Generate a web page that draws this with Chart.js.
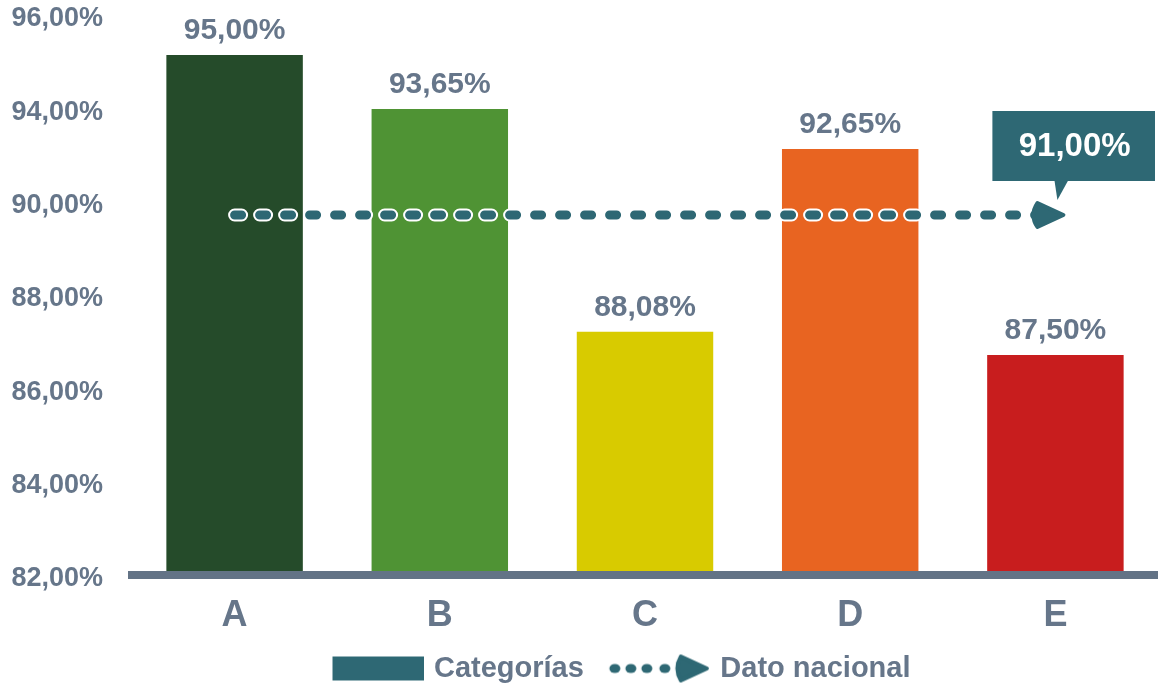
<!DOCTYPE html>
<html><head><meta charset="utf-8">
<script src="https://cdn.jsdelivr.net/npm/chart.js@4"></script>
<style>html,body{margin:0;padding:0;background:#fff}#wrap{width:1158px;height:685px;position:relative}</style>
</head><body><div id="wrap"><canvas id="c"></canvas></div>
<script>
const categories = ['A', 'B', 'C', 'D', 'E'];
const categoryValues = [95.00, 93.65, 88.08, 92.65, 87.50];
const nationalValue = 91.00;
const yTickLabels = ['82,00%', '84,00%', '86,00%', '88,00%', '90,00%', '94,00%', '96,00%'];
const barColors = ['#254b2a', '#4f9334', '#d8cb00', '#e86421', '#c81d1e'];
const seriesNames = ['Categorías', 'Dato nacional'];
const yMin = 82, yMax = 96;

const TEAL = '#2e6874';
const GRAY = '#66768a';
const AXIS = '#637386';
const FONT = "'Liberation Sans', Arial, sans-serif";

function fmt(v) { return v.toFixed(2).replace('.', ',') + '%'; }

// legend images
function makeRectImg() {
  const c = document.createElement('canvas');
  c.width = 130; c.height = 26;
  const g = c.getContext('2d');
  g.fillStyle = TEAL;
  g.fillRect(38, 1, 92, 24);
  return c;
}
function makeArrowImg() {
  const c = document.createElement('canvas');
  c.width = 130; c.height = 30;
  const g = c.getContext('2d');
  g.fillStyle = TEAL;
  g.strokeStyle = TEAL;
  const cy = 15;
  [34, 50, 66, 84].forEach(x => {
    g.beginPath(); g.ellipse(x, cy, 5.5, 4.5, 0, 0, Math.PI * 2); g.fill();
  });
  g.beginPath();
  g.moveTo(100, cy - 12); g.lineTo(126, cy); g.lineTo(100, cy + 12);
  g.quadraticCurveTo(93, cy, 100, cy - 12);
  g.closePath();
  g.lineJoin = 'round'; g.lineWidth = 4;
  g.fill(); g.stroke();
  return c;
}
const rectImg = makeRectImg();
const arrowImg = makeArrowImg();

const overlayPlugin = {
  id: 'overlay',
  afterLayout(chart) {
    const lg = chart.legend;
    if (lg) { lg.top += 8; lg.bottom += 8; lg.left += 21; lg.right += 21; }
  },
  beforeDatasetsDraw(chart) {
    // rounded left cap of the axis line
    const ctx = chart.ctx, a = chart.chartArea;
    ctx.save();
    ctx.fillStyle = AXIS;
    ctx.beginPath();
    ctx.arc(a.left, a.bottom, 4, Math.PI / 2, Math.PI * 1.5);
    ctx.fill();
    ctx.restore();
  },
  afterDatasetsDraw(chart) {
    const ctx = chart.ctx;
    const x = chart.scales.x, y = chart.scales.y;
    const ny = y.getPixelForValue(nationalValue);
    const xE = x.getPixelForValue(categories.length - 1);
    ctx.save();
    // arrow head
    ctx.fillStyle = TEAL; ctx.strokeStyle = TEAL;
    ctx.lineJoin = 'round'; ctx.lineWidth = 4;
    ctx.beginPath();
    ctx.moveTo(xE - 18, ny - 12);
    ctx.lineTo(xE + 8, ny);
    ctx.lineTo(xE - 18, ny + 12);
    ctx.quadraticCurveTo(xE - 26, ny, xE - 18, ny - 12);
    ctx.closePath(); ctx.fill(); ctx.stroke();
    // callout
    const bl = xE - 63, br = Math.min(xE + 100, chart.width - 3);
    const bt = ny - 104, bb = ny - 34;
    ctx.fillStyle = TEAL;
    ctx.fillRect(bl, bt, br - bl, bb - bt);
    ctx.beginPath();
    ctx.moveTo(xE - 1, bb - 1); ctx.lineTo(xE + 13, bb - 1); ctx.lineTo(xE + 2, ny - 15);
    ctx.closePath(); ctx.fill();
    ctx.fillStyle = '#ffffff';
    ctx.font = 'bold 33px ' + FONT;
    ctx.textAlign = 'center'; ctx.textBaseline = 'middle';
    ctx.fillText(fmt(nationalValue), (bl + br) / 2 + 1, (bt + bb) / 2 + 1);
    // value labels
    const meta = chart.getDatasetMeta(0);
    ctx.fillStyle = GRAY;
    ctx.font = 'bold 30px ' + FONT;
    meta.data.forEach((bar, i) => {
      ctx.fillText(fmt(categoryValues[i]), bar.x, bar.y - 24);
    });
    ctx.restore();
  }
};

const nationalSeries = categories.map(() => nationalValue);

new Chart(document.getElementById('c'), {
  data: {
    labels: categories,
    datasets: [
      {
        type: 'bar', label: seriesNames[0], data: categoryValues,
        backgroundColor: barColors, borderWidth: 0,
        barPercentage: 0.665, categoryPercentage: 1, order: 3
      },
      {
        type: 'line', label: seriesNames[1] + ' borde', data: nationalSeries,
        borderColor: '#ffffff', borderWidth: 13, borderDash: [7, 18],
        borderCapStyle: 'round', pointRadius: 0, fill: false, order: 2
      },
      {
        type: 'line', label: seriesNames[1], data: nationalSeries,
        borderColor: TEAL, borderWidth: 9, borderDash: [7, 18],
        borderCapStyle: 'round', pointRadius: 0, fill: false, order: 1
      }
    ]
  },
  options: {
    responsive: true, maintainAspectRatio: false, animation: false,
    layout: { padding: { left: 10, right: 0, top: 0, bottom: 0 } },
    scales: {
      x: {
        grid: { display: true, drawOnChartArea: false, drawTicks: false },
        border: { display: true, color: AXIS, width: 8, z: 1 },
        ticks: { color: GRAY, font: { family: FONT, size: 36, weight: 'bold' }, padding: 19 },
        afterFit(scale) { scale.height = 69; }
      },
      y: {
        min: yMin, max: yMax,
        grid: { display: false, drawTicks: false },
        border: { display: false },
        afterBuildTicks(scale) {
          scale.ticks = yTickLabels.map((_, i) => ({ value: yMin + i * (yMax - yMin) / (yTickLabels.length - 1) }));
        },
        afterFit(scale) { scale.width = 122; scale.paddingTop = 15; scale.paddingBottom = 0; },
        ticks: {
          color: GRAY, padding: 29, labelOffset: 4,
          font: { family: FONT, size: 27, weight: 'bold' },
          callback: (v, i) => yTickLabels[i]
        }
      }
    },
    plugins: {
      tooltip: { enabled: false },
      legend: {
        position: 'bottom',
        labels: {
          color: GRAY, padding: 2, usePointStyle: true, pointStyleWidth: 120,
          font: { family: FONT, size: 29, weight: 'bold' },
          generateLabels: () => [
            { text: seriesNames[0], pointStyle: rectImg, fillStyle: TEAL, strokeStyle: TEAL, lineWidth: 0, hidden: false, datasetIndex: 0, fontColor: GRAY },
            { text: seriesNames[1], pointStyle: arrowImg, fillStyle: TEAL, strokeStyle: TEAL, lineWidth: 0, hidden: false, datasetIndex: 2, fontColor: GRAY }
          ]
        }
      }
    }
  },
  plugins: [overlayPlugin]
});
</script>
</body></html>
